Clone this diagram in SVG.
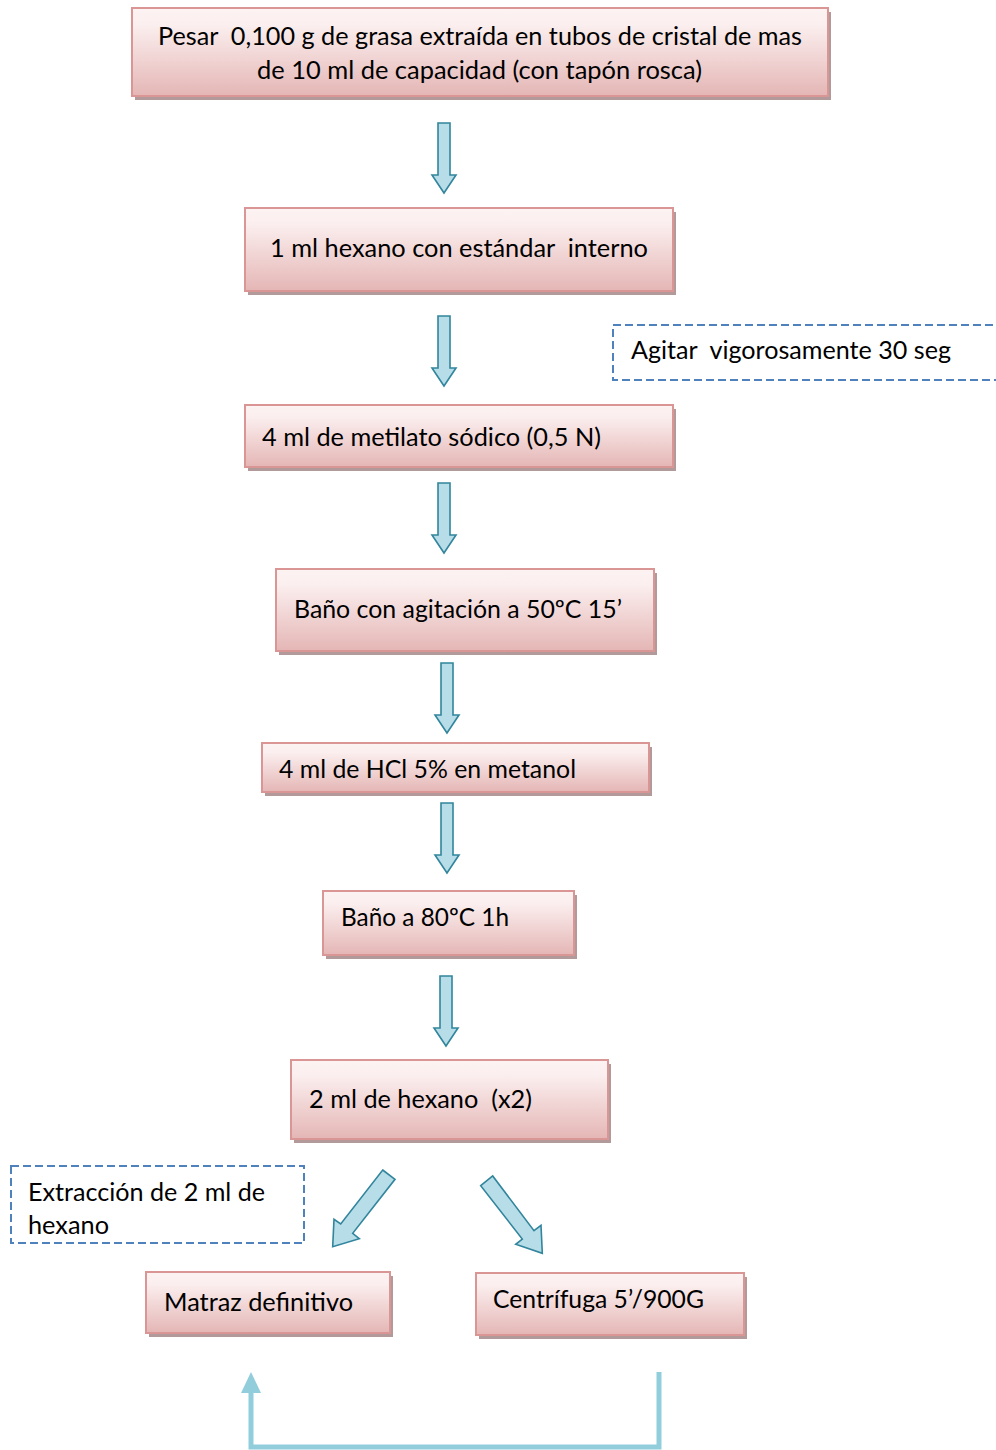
<svg xmlns="http://www.w3.org/2000/svg" width="996" height="1450" viewBox="0 0 996 1450">
<defs>
<linearGradient id="pink" x1="0" y1="0" x2="0" y2="1">
<stop offset="0" stop-color="#fdf3f3"/>
<stop offset="0.2" stop-color="#fbeeee"/>
<stop offset="1" stop-color="#e4b6b5"/>
</linearGradient>
<path id="varrow" d="M-6,-70 H6 V-18 H12 L0,0 L-12,-18 H-6 Z"/>
</defs>
<style>
.shadow{fill:#b39a9a;}
.box{fill:url(#pink);stroke:#d99694;stroke-width:2;}
.t{font-family:Lato,"Open Sans","Liberation Sans",sans-serif;font-size:25px;fill:#000;white-space:pre;}
.arr{fill:#b7dde8;stroke:#31859c;stroke-width:1.6;stroke-linejoin:miter;}
.dash{fill:none;stroke:#4f81bd;stroke-width:2;stroke-dasharray:8 4;}
.conn{fill:none;stroke:#92cddc;stroke-width:5;}
</style>
<rect width="996" height="1450" fill="#ffffff"/>

<g id="n1">
<rect class="shadow" x="135" y="12" width="696" height="88"/>
<rect class="box" x="132" y="8" width="696" height="88"/>
<text class="t" x="158" y="45" textLength="644" lengthAdjust="spacingAndGlyphs" xml:space="preserve">Pesar  0,100 g de grasa extraída en tubos de cristal de mas</text>
<text class="t" x="257" y="79" textLength="445" lengthAdjust="spacingAndGlyphs">de 10 ml de capacidad (con tapón rosca)</text>
</g>

<g id="n2">
<rect class="shadow" x="248" y="212" width="428" height="83"/>
<rect class="box" x="245" y="208" width="428" height="83"/>
<text class="t" x="270" y="257" textLength="378" lengthAdjust="spacingAndGlyphs" xml:space="preserve">1 ml hexano con estándar  interno</text>
</g>

<g id="n3">
<rect class="shadow" x="248" y="409" width="428" height="62"/>
<rect class="box" x="245" y="405" width="428" height="62"/>
<text class="t" x="262" y="446" textLength="339" lengthAdjust="spacingAndGlyphs">4 ml de metilato sódico (0,5 N)</text>
</g>

<g id="n4">
<rect class="shadow" x="279" y="573" width="378" height="82"/>
<rect class="box" x="276" y="569" width="378" height="82"/>
<text class="t" x="294" y="618" textLength="328" lengthAdjust="spacingAndGlyphs">Baño con agitación a 50ºC 15’</text>
</g>

<g id="n5">
<rect class="shadow" x="265" y="747" width="387" height="49"/>
<rect class="box" x="262" y="743" width="387" height="49"/>
<text class="t" x="279" y="778" textLength="297" lengthAdjust="spacingAndGlyphs">4 ml de HCl 5% en metanol</text>
</g>

<g id="n6">
<rect class="shadow" x="326" y="895" width="251" height="64"/>
<rect class="box" x="323" y="891" width="251" height="64"/>
<text class="t" x="341" y="926" textLength="168" lengthAdjust="spacingAndGlyphs">Baño a 80ºC 1h</text>
</g>

<g id="n7">
<rect class="shadow" x="294" y="1064" width="317" height="79"/>
<rect class="box" x="291" y="1060" width="317" height="79"/>
<text class="t" x="309" y="1108" textLength="223" lengthAdjust="spacingAndGlyphs" xml:space="preserve">2 ml de hexano  (x2)</text>
</g>

<g id="n8">
<rect class="shadow" x="149" y="1276" width="244" height="61"/>
<rect class="box" x="146" y="1272" width="244" height="61"/>
<text class="t" x="164" y="1311" textLength="189" lengthAdjust="spacingAndGlyphs">Matraz definitivo</text>
</g>

<g id="n9">
<rect class="shadow" x="479" y="1277" width="268" height="62"/>
<rect class="box" x="476" y="1273" width="268" height="62"/>
<text class="t" x="493" y="1308" textLength="211" lengthAdjust="spacingAndGlyphs">Centrífuga 5’/900G</text>
</g>

<g id="note1">
<rect class="dash" x="613" y="325" width="395" height="55"/>
<text class="t" x="631" y="359" textLength="320" lengthAdjust="spacingAndGlyphs" xml:space="preserve">Agitar  vigorosamente 30 seg</text>
</g>

<g id="note2">
<rect class="dash" x="11" y="1166" width="293" height="77"/>
<text class="t" x="28" y="1201" textLength="237" lengthAdjust="spacingAndGlyphs">Extracción de 2 ml de</text>
<text class="t" x="28" y="1234" textLength="81" lengthAdjust="spacingAndGlyphs">hexano</text>
</g>

<g id="connectors">
<use href="#varrow" class="arr" transform="translate(444,193)"/>
<use href="#varrow" class="arr" transform="translate(444,386)"/>
<use href="#varrow" class="arr" transform="translate(444,553)"/>
<use href="#varrow" class="arr" transform="translate(447,733)"/>
<use href="#varrow" class="arr" transform="translate(447,873)"/>
<use href="#varrow" class="arr" transform="translate(446,1046)"/>
<polygon class="arr" points="382.7,1170 395,1179.3 352.7,1233.3 359.3,1238.7 332.7,1246.7 334,1219.3 340.7,1224"/>
<polygon class="arr" points="480.7,1185.7 492.7,1176 534,1230.7 541,1225.3 542.3,1253.3 515.7,1244.3 522.3,1239"/>
<path class="conn" d="M659,1372 V1447 H251 V1390"/>
<polygon points="241,1393 251,1372 261,1393" fill="#92cddc"/>
</g>
</svg>
